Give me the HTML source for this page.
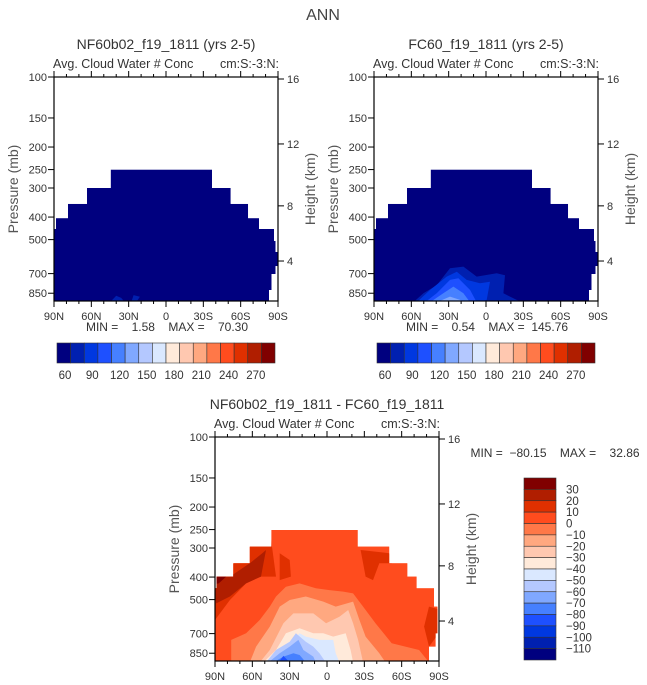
<!DOCTYPE html>
<html><head><meta charset="utf-8">
<style>
html,body{margin:0;padding:0;background:#fff;}
svg{display:block;font-family:"Liberation Sans","DejaVu Sans",sans-serif;}
.pre{white-space:pre;}
</style></head>
<body>
<svg id="chart" width="647" height="685" viewBox="0 0 647 685" xmlns="http://www.w3.org/2000/svg">
<text x="323" y="20" font-size="16" text-anchor="middle" fill="#444">ANN</text>
</svg>
<script>
// ---------- data ----------
const pressureTicks = [100,150,200,250,300,400,500,700,850];
const heightTicks = [16,12,8,4];
const heightTickPressure = [102,194,358,618];
const latTicks = [90,60,30,0,-30,-60,-90];
const latTickLabels = ["90N","60N","30N","0","30S","60S","90S"];
const absLevels = ["60","90","120","150","180","210","240","270"];
const diffLevels = ["30","20","10","0","-10","-20","-30","-40","-50","-60","-70","-80","-90","-100","-110"];
const colors = ["#00007f","#0020b0","#0038e0","#1e50ff","#4680ff","#80a8ff","#b4c8ff","#dae8ff","#ffeada","#ffc8b0","#ffa880","#ff7848","#ff4c1e","#e03000","#b01e00","#800000"];
const panelTitles = ["NF60b02_f19_1811 (yrs 2-5)","FC60_f19_1811 (yrs 2-5)","NF60b02_f19_1811 - FC60_f19_1811"];
const minVals = ["1.58","0.54","-80.15"];
const maxVals = ["70.30","145.76","32.86"];
// domain shapes (lat, pressure)
const topShape = [90,918, 90,450, 88.4,450, 88.4,404, 78.75,404, 78.75,351, 63.5,351, 63.5,300, 44.4,300, 44.4,250, -37,250, -37,300, -52,300, -52,351, -66,351, -66,404, -74.7,404, -74.7,450, -86.8,450, -86.8,507, -88,507, -88,565, -90,565, -90,650, -88,650, -88,703, -84.8,703, -84.8,823, -82.8,823, -82.8,918];
const diffShape = [90,918, 90,447, 88.7,447, 88.7,398, 75.3,398, 75.3,349, 62,349, 62,296, 44.7,296, 44.7,251, -24.7,251, -24.7,296, -50,296, -50,349, -64.5,349, -64.5,398, -72,398, -72,447, -86,447, -86,536, -88.7,536, -88.7,698, -87.3,698, -87.3,796, -82,796, -82,918];
// contour fills: [colorIndex, polygon]
const leftContours = [
 [1,[45,930, 40,872, 36,890, 33,930]],
 [1,[28,930, 26,866, 21,880, 24,930]]
];
const rightContours = [
 [1,[58.4,930, 50.3,851, 39.6,785, 28.9,664, 18.2,653, 7.5,721, -8.6,698, -15.3,711, -14,851, -24.7,908, -30,930]],
 [2,[55.7,930, 45,823, 31.6,721, 23.5,687, 15.5,745, 4.8,770, -3.2,758, -0.6,908, 7.5,930]],
 [3,[49,930, 39.6,851, 28.9,745, 22.2,733, 12.8,823, 7.5,930]],
 [4,[45,930, 34.3,851, 26.2,796, 18.2,851, 12.8,930]],
 [5,[39.6,930, 28.9,879, 20.9,908, 18.2,930]]
];
const diffContours = [
 [12,[95,930, 95,240, -95,240, -95,930]],
 [13,[92,398, 75,349, 62,296, 46,251, 41,398, 54,398, 65,426, 78,502, 92,632]],
 [13,[-27,306, -50,316, -52,349, -42,349, -37,412, -31,398]],
 [13,[38,316, 30,338, 29,398, 38,412]],
 [13,[-82,536, -92,554, -92,675, -82,796, -78,653]],
 [14,[92,398, 78,398, 62,349, 52,316, 49,306, 53,398, 65,426, 78,485, 89,519]],
 [15,[92,398, 81,398, 87,426, 92,430]],
 [11,[92,930, 77,930, 77,745, 65,698, 54,611, 46,536, 41,485, 33,440, 22,426, 9,447, -2,455, -13,462, -21,470, -29,536, -39,632, -52,770, -74,823, -82,930]],
 [10,[62,930, 57,796, 46,653, 38,536, 30,502, 17,485, 3,510, -7,536, -21,510, -26,611, -31,721, -42,851, -47,930]],
 [9,[54,930, 46,823, 35,632, 27,573, 11,573, 0.7,632, -10,592, -17,554, -21,632, -25,745, -29,930]],
 [8,[51,930, 41,823, 33,698, 22,664, 11,698, 3,698, -5,721, -15,698, -19,823, -21,930]],
 [7,[49,930, 38,823, 30,770, 22,698, 17,721, 6,745, -5,745, -7,851, -10,930]],
 [6,[49,930, 41,823, 30,758, 25,698, 17,758, 11,796, 6,851, 1,930]],
 [5,[47,930, 38,851, 30,796, 23,745, 19,823, 11,879, 9,930]],
 [4,[43,930, 35,879, 27,851, 22,865, 17,930]],
 [3,[39,930, 35,873, 30,930]]
];
// ---------- drawing ----------
const NS="http://www.w3.org/2000/svg";
const svg=document.getElementById('chart');
function mk(tag,attrs,parent){const e=document.createElementNS(NS,tag);for(const k in attrs)e.setAttribute(k,attrs[k]);(parent||svg).appendChild(e);return e;}
const W=224,H=224,PTOP=100,PBOT=918;
function xs(ox,lat){return ox+(90-lat)/180*W;}
function ys(oy,p){return oy+(Math.log10(p)-Math.log10(PTOP))/(Math.log10(PBOT)-Math.log10(PTOP))*H;}
function pts(ox,oy,arr){let s=[];for(let i=0;i<arr.length;i+=2)s.push(xs(ox,arr[i]).toFixed(1)+","+ys(oy,arr[i+1]).toFixed(1));return s.join(" ");}

function panel(idx,ox,oy,shape,base,contours){
  const g=mk('g',{});
  
  
  const t=mk('text',{x:ox+112,y:oy-28,'font-size':14,'text-anchor':'middle',fill:'#333'},g);
  
  
  t.textContent=panelTitles[idx];
  const s1=mk('text',{x:ox-1,y:oy-9,'font-size':12.5,fill:'#333'},g);
  
  
  s1.textContent='Avg. Cloud Water # Conc';
  const s2=mk('text',{x:ox+225,y:oy-9,'font-size':12.5,'text-anchor':'end',fill:'#333'},g);
  
  
  s2.textContent='cm:S:-3:N:';
  const cid='clip'+idx;
  const cp=mk('clipPath',{id:cid},g);
  mk('polygon',{points:pts(ox,oy,shape)},cp);
  const fg=mk('g',{'clip-path':'url(#'+cid+')'},g);
  const bp=mk('polygon',{points:pts(ox,oy,shape),fill:colors[base]},fg);
  
  
  contours.forEach(c=>{
    const p=mk('polygon',{points:pts(ox,oy,c[1]),fill:colors[c[0]]},fg);
    
    
  });
  const fr=mk('rect',{x:ox,y:oy,width:W,height:H,fill:'none',stroke:'#000','stroke-width':1.2},g);
  
  
  pressureTicks.forEach(p=>{
    const y=ys(oy,p);
    mk('line',{x1:ox-6,x2:ox,y1:y,y2:y,stroke:'#000'},g);
    const l=mk('text',{x:ox-7,y:y+4,'font-size':11,'text-anchor':'end',fill:'#333'},g);
    
    
    l.textContent=p;
  });
  heightTicks.forEach((h,i)=>{
    const y=ys(oy,heightTickPressure[i]);
    mk('line',{x1:ox+W,x2:ox+W+6,y1:y,y2:y,stroke:'#000'},g);
    const l=mk('text',{x:ox+W+9,y:y+4,'font-size':11,fill:'#333'},g);
    
    
    l.textContent=h;
  });
  for(let lat=90;lat>=-90;lat-=10){
    const x=xs(ox,lat);const major=(lat%30===0);
    const L=major?6:3;
    mk('line',{x1:x,x2:x,y1:oy+H,y2:oy+H+L,stroke:'#000'},g);
    mk('line',{x1:x,x2:x,y1:oy,y2:oy-L,stroke:'#000'},g);
  }
  latTicks.forEach((lat,i)=>{
    const l=mk('text',{x:xs(ox,lat),y:oy+H+19,'font-size':11,'text-anchor':'middle',fill:'#333'},g);
    
    
    l.textContent=latTickLabels[i];
  });
  const ya=mk('text',{x:0,y:0,'font-size':14,'text-anchor':'middle',fill:'#555',transform:`translate(${ox-36},${oy+112}) rotate(-90)`},g);
  
  
  ya.textContent='Pressure (mb)';
  const ha=mk('text',{x:0,y:0,'font-size':14,'text-anchor':'middle',fill:'#555',transform:`translate(${ox+W+37},${oy+112}) rotate(-90)`},g);
  
  
  ha.textContent='Height (km)';
  return g;
}
function minmax(idx,x,y,anchor){
  const t=mk('text',{x:x,y:y,'font-size':12,'text-anchor':anchor,fill:'#333','class':'pre'});
  
  
  const mv=minVals[idx].replace('-','\u2212');
  t.textContent='MIN =  '+(mv.length<6?'  ':'')+mv+'    MAX =  '+(maxVals[idx].length<6?'  ':'')+maxVals[idx];
}
function hbar(x0,y0,w,h){
  const g=mk('g',{});
  
  
  const bw=w/colors.length;
  colors.forEach((c,i)=>{
    const r=mk('rect',{x:x0+i*bw,y:y0,width:bw,height:h,fill:c,stroke:'#333','stroke-width':0.6},g);
    
    
  });
  absLevels.forEach((v,i)=>{
    const l=mk('text',{x:x0+6+i*bw*2+bw*0.15,y:y0+h+16,'font-size':11.5,'text-anchor':'middle',fill:'#333'},g);
    
    
    l.textContent=v;
  });
}
panel(0,54,77,topShape,0,leftContours);
panel(1,374,77,topShape,0,rightContours);
panel(2,215,437,diffShape,12,diffContours);
minmax(0,167,331,'middle');
minmax(1,487,331,'middle');
minmax(2,555,457,'middle');
hbar(57,343,218,20);
hbar(377,343,218,20);
(function(){
  const x0=524,y0=478,w=32,h=182;
  const g=mk('g',{});
  
  
  const bh=h/colors.length;
  for(let i=0;i<colors.length;i++){
    const r=mk('rect',{x:x0,y:y0+i*bh,width:w,height:bh,fill:colors[colors.length-1-i],stroke:'#333','stroke-width':0.6},g);
    
    
  }
  diffLevels.forEach((v,i)=>{
    const l=mk('text',{x:x0+w+10,y:y0+(i+1)*bh+4,'font-size':11.5,fill:'#333'},g);
    
    
    l.textContent=v.replace('-','\u2212');
  });
})();
</script>
</body></html>
